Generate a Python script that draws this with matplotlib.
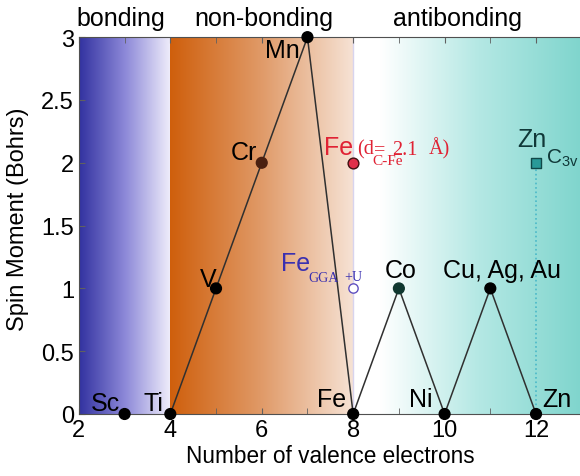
import numpy as np
import matplotlib.pyplot as plt
from matplotlib.colors import LinearSegmentedColormap

plt.rcParams['font.family'] = ['Liberation Sans', 'DejaVu Sans']
plt.rcParams['mathtext.fontset'] = 'custom'
plt.rcParams['mathtext.rm'] = 'Liberation Sans'

# data
elements = ['Sc', 'Ti', 'V', 'Cr', 'Mn', 'Fe', 'Co', 'Ni', 'Cu, Ag, Au', 'Zn']
n_valence = [3, 4, 5, 6, 7, 8, 9, 10, 11, 12]
spin = [0, 0, 1, 2, 3, 0, 1, 0, 1, 0]
fe_dist = (8, 2)      # Fe at d_C-Fe = 2.1 A
fe_ggau = (8, 1)      # Fe GGA+U
zn_c3v = (12, 2)      # Zn C3v
regions = ['bonding', 'non-bonding', 'antibonding']
region_x = [2.92, 6.04, 10.28]
xticks = [2, 4, 6, 8, 10, 12]
yticks = [0, 0.5, 1, 1.5, 2, 2.5, 3]
ytick_labels = ['0', '0.5', '1', '1.5', '2', '2.5', '3']

fig = plt.figure(figsize=(5.8, 4.77), dpi=100)
ax = fig.add_axes([0.136, 0.13, 0.867, 0.79])
ax.set_xlim(2, 13)
ax.set_ylim(0, 3)

# background gradients
grad = np.linspace(0, 1, 256).reshape(1, -1)
blue = LinearSegmentedColormap.from_list('b', ['#3232a0', '#8c88d8', '#f0eefb'])
orange = LinearSegmentedColormap.from_list('o', ['#cf5f0c', '#e09a68', '#f6e2d4'])
teal = LinearSegmentedColormap.from_list(
    't', [(0, '#ffffff'), (0.12, '#ffffff'), (0.55, '#b4e8e4'), (1, '#7fd5cd')])
ax.imshow(grad, cmap=blue, extent=[2, 4, 0, 3], aspect='auto', zorder=0)
ax.imshow(grad, cmap=orange, extent=[4, 8, 0, 3], aspect='auto', zorder=0)
ax.imshow(grad, cmap=teal, extent=[8, 13, 0, 3], aspect='auto', zorder=0)
ax.axvline(8, color='#d8d4ee', lw=1, zorder=1)
ax.plot([zn_c3v[0], zn_c3v[0]], [0, zn_c3v[1]], ls=':', color='#4ab8c8', lw=1.2, zorder=1)

# main line
ax.plot(n_valence[1:], spin[1:], color='#303030', lw=1.1, zorder=2)
mcol = ['black'] * len(elements)
mcol[3] = '#4a2010'
mcol[6] = '#103830'
ax.scatter(n_valence, spin, s=60, c=mcol, zorder=3, clip_on=False)

# label positions (x, baseline y)
label_pos = {
    'Sc': (2.59, 0.03), 'Ti': (3.62, 0.03), 'V': (4.82, 1.02), 'Cr': (5.62, 2.03),
    'Mn': (6.45, 2.84), 'Fe': (7.52, 0.06), 'Co': (9.03, 1.09), 'Ni': (9.47, 0.06),
    'Cu, Ag, Au': (11.26, 1.09), 'Zn': (12.46, 0.06),
}
for el in elements:
    x, y = label_pos[el]
    ax.text(x, y, el, fontsize=18, ha='center', va='baseline', zorder=4)

# extra points
red = '#e02234'
serif = 'Liberation Serif'
ax.scatter(*fe_dist, s=60, color='#e0304a', edgecolor='#401010', lw=1, zorder=4)
ax.text(7.37, 2.07, 'Fe', color=red, fontsize=18, va='baseline')
ax.text(8.09, 2.07, '(d', color=red, fontsize=14.5, family=serif, va='baseline')
ax.text(8.46, 2.07, '=', color=red, fontsize=14.5, family=serif, va='baseline')
ax.text(8.86, 2.07, '2.1', color=red, fontsize=14.5, family=serif, va='baseline')
ax.text(9.66, 2.07, 'Å)', color=red, fontsize=14.5, family=serif, va='baseline')
ax.text(8.42, 1.99, 'C-Fe', color=red, fontsize=11, family=serif, va='baseline')

blue_txt = '#3a30b0'
ax.scatter(*fe_ggau, s=45, facecolor='white', edgecolor='#6050c0', lw=1, zorder=4)
ax.text(6.43, 1.15, 'Fe', color=blue_txt, fontsize=18, va='baseline')
ax.text(7.02, 1.06, 'GGA', color=blue_txt, fontsize=10, family=serif, va='baseline')
ax.text(7.81, 1.07, '+U', color=blue_txt, fontsize=10, family=serif, va='baseline')

ax.scatter(*zn_c3v, s=45, marker='s', color='#2a9a98', edgecolor='#104848', lw=1, zorder=4)
ax.text(11.59, 2.13, 'Zn', color='#103838', fontsize=18, va='baseline')
ax.text(12.22, 2.0, r'C$_{3\mathrm{v}}$', color='#103838', fontsize=15, va='baseline')

for name, x in zip(regions, region_x):
    ax.text(x, 3.1, name, fontsize=18, ha='center', va='baseline')

ax.set_xticks(xticks)
ax.set_xticks(list(range(2, 13)), minor=True)
ax.set_yticks(yticks)
ax.set_yticklabels(ytick_labels)
ax.tick_params(direction='in', top=True, labelsize=17, length=4, color='#606060')
ax.tick_params(which='minor', direction='in', top=True, length=4, color='#606060')
ax.set_xlabel('Number of valence electrons', fontsize=16.3, labelpad=2)
ax.set_ylabel('Spin Moment (Bohrs)', fontsize=17)
ax.yaxis.set_label_coords(-0.10, 0.52)
for s in ax.spines.values():
    s.set_color('#505050')

fig.savefig('out.png', dpi=100)
